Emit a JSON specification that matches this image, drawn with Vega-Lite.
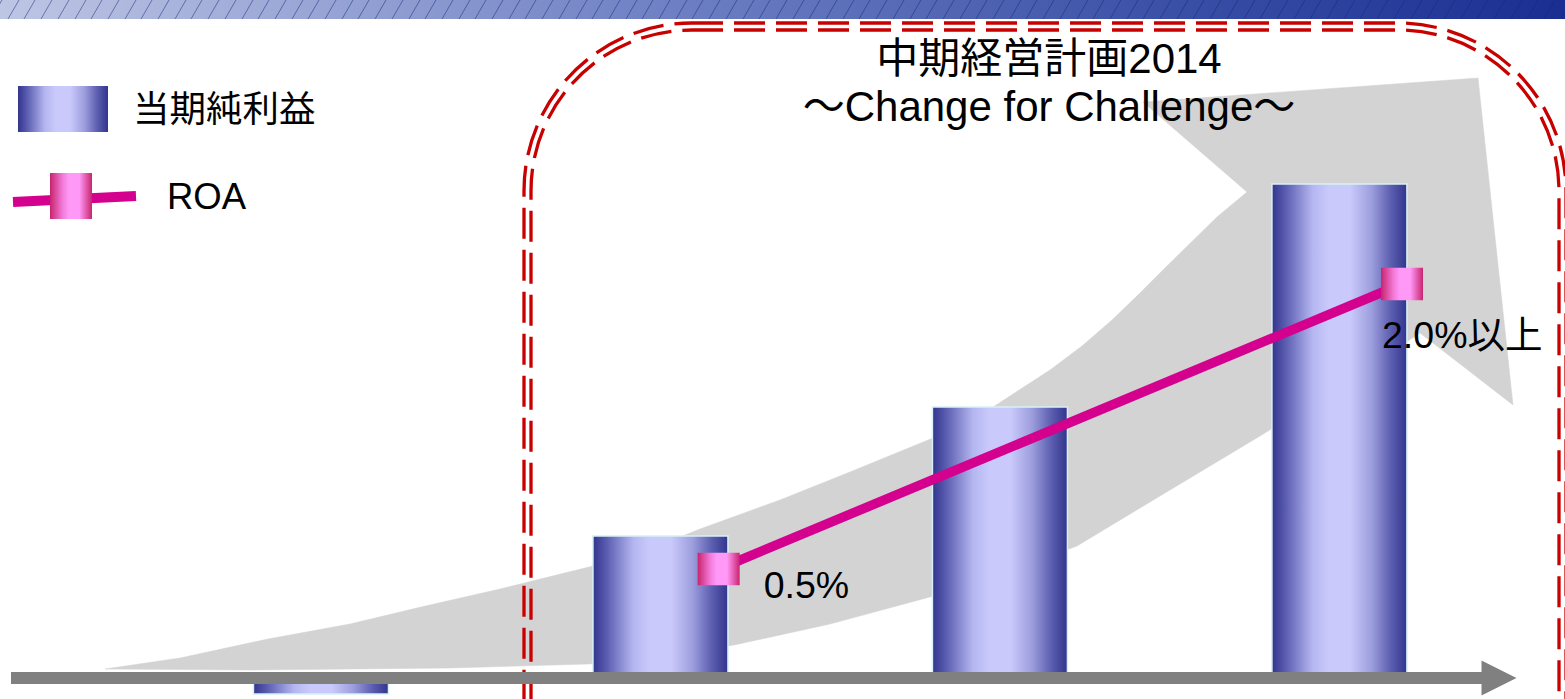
{
  "$schema": "https://vega.github.io/schema/vega-lite/v6.json",
  "width": 1565,
  "height": 699,
  "autosize": "none",
  "padding": 0,
  "background": "white",
  "config": {"view": {"stroke": null}},
  "layer": [
    {
      "encoding": {
        "x": {"field": "px", "type": "quantitative", "scale": {"domain": [0, 1565], "nice": false, "zero": false}, "axis": null},
        "y": {"field": "py", "type": "quantitative", "scale": {"domain": [0, 699], "nice": false, "zero": false, "reverse": true}, "axis": null}
      },
      "layer": [
        {
          "data": {"values": [{"px": 0, "py": 0, "px2": 1565, "py2": 19}]},
          "mark": {"type": "rect", "fill": {"gradient": "linear", "x1": 0, "y1": 0, "x2": 1, "y2": 0, "stops": [{"offset": 0, "color": "#bec6e4"}, {"offset": 0.4, "color": "#7384c6"}, {"offset": 0.75, "color": "#3a50a6"}, {"offset": 1, "color": "#1a2e92"}]}},
          "encoding": {"x2": {"field": "px2"}, "y2": {"field": "py2"}}
        },
        {
          "data": {"values": [
            {"px": -9, "py": 19, "px2": 2, "py2": 0}, {"px": 8, "py": 19, "px2": 19, "py2": 0}, {"px": 24, "py": 19, "px2": 35, "py2": 0}, {"px": 41, "py": 19, "px2": 52, "py2": 0},
            {"px": 58, "py": 19, "px2": 69, "py2": 0}, {"px": 75, "py": 19, "px2": 86, "py2": 0}, {"px": 91, "py": 19, "px2": 102, "py2": 0}, {"px": 108, "py": 19, "px2": 119, "py2": 0},
            {"px": 125, "py": 19, "px2": 136, "py2": 0}, {"px": 141, "py": 19, "px2": 152, "py2": 0}, {"px": 158, "py": 19, "px2": 169, "py2": 0}, {"px": 175, "py": 19, "px2": 186, "py2": 0},
            {"px": 191, "py": 19, "px2": 202, "py2": 0}, {"px": 208, "py": 19, "px2": 219, "py2": 0}, {"px": 225, "py": 19, "px2": 236, "py2": 0}, {"px": 242, "py": 19, "px2": 253, "py2": 0},
            {"px": 258, "py": 19, "px2": 269, "py2": 0}, {"px": 275, "py": 19, "px2": 286, "py2": 0}, {"px": 292, "py": 19, "px2": 303, "py2": 0}, {"px": 308, "py": 19, "px2": 319, "py2": 0},
            {"px": 325, "py": 19, "px2": 336, "py2": 0}, {"px": 342, "py": 19, "px2": 353, "py2": 0}, {"px": 358, "py": 19, "px2": 369, "py2": 0}, {"px": 375, "py": 19, "px2": 386, "py2": 0},
            {"px": 392, "py": 19, "px2": 403, "py2": 0}, {"px": 409, "py": 19, "px2": 420, "py2": 0}, {"px": 425, "py": 19, "px2": 436, "py2": 0}, {"px": 442, "py": 19, "px2": 453, "py2": 0},
            {"px": 459, "py": 19, "px2": 470, "py2": 0}, {"px": 475, "py": 19, "px2": 486, "py2": 0}, {"px": 492, "py": 19, "px2": 503, "py2": 0}, {"px": 509, "py": 19, "px2": 520, "py2": 0},
            {"px": 525, "py": 19, "px2": 536, "py2": 0}, {"px": 542, "py": 19, "px2": 553, "py2": 0}, {"px": 559, "py": 19, "px2": 570, "py2": 0}, {"px": 576, "py": 19, "px2": 587, "py2": 0},
            {"px": 592, "py": 19, "px2": 603, "py2": 0}, {"px": 609, "py": 19, "px2": 620, "py2": 0}, {"px": 626, "py": 19, "px2": 637, "py2": 0}, {"px": 642, "py": 19, "px2": 653, "py2": 0},
            {"px": 659, "py": 19, "px2": 670, "py2": 0}, {"px": 676, "py": 19, "px2": 687, "py2": 0}, {"px": 692, "py": 19, "px2": 703, "py2": 0}, {"px": 709, "py": 19, "px2": 720, "py2": 0},
            {"px": 726, "py": 19, "px2": 737, "py2": 0}, {"px": 743, "py": 19, "px2": 754, "py2": 0}, {"px": 759, "py": 19, "px2": 770, "py2": 0}, {"px": 776, "py": 19, "px2": 787, "py2": 0},
            {"px": 793, "py": 19, "px2": 804, "py2": 0}, {"px": 809, "py": 19, "px2": 820, "py2": 0}, {"px": 826, "py": 19, "px2": 837, "py2": 0}, {"px": 843, "py": 19, "px2": 854, "py2": 0},
            {"px": 859, "py": 19, "px2": 870, "py2": 0}, {"px": 876, "py": 19, "px2": 887, "py2": 0}, {"px": 893, "py": 19, "px2": 904, "py2": 0}, {"px": 910, "py": 19, "px2": 921, "py2": 0},
            {"px": 926, "py": 19, "px2": 937, "py2": 0}, {"px": 943, "py": 19, "px2": 954, "py2": 0}, {"px": 960, "py": 19, "px2": 971, "py2": 0}, {"px": 976, "py": 19, "px2": 987, "py2": 0},
            {"px": 993, "py": 19, "px2": 1004, "py2": 0}, {"px": 1010, "py": 19, "px2": 1021, "py2": 0}, {"px": 1026, "py": 19, "px2": 1037, "py2": 0}, {"px": 1043, "py": 19, "px2": 1054, "py2": 0},
            {"px": 1060, "py": 19, "px2": 1071, "py2": 0}, {"px": 1077, "py": 19, "px2": 1088, "py2": 0}, {"px": 1093, "py": 19, "px2": 1104, "py2": 0}, {"px": 1110, "py": 19, "px2": 1121, "py2": 0},
            {"px": 1127, "py": 19, "px2": 1138, "py2": 0}, {"px": 1143, "py": 19, "px2": 1154, "py2": 0}, {"px": 1160, "py": 19, "px2": 1171, "py2": 0}, {"px": 1177, "py": 19, "px2": 1188, "py2": 0},
            {"px": 1193, "py": 19, "px2": 1204, "py2": 0}, {"px": 1210, "py": 19, "px2": 1221, "py2": 0}, {"px": 1227, "py": 19, "px2": 1238, "py2": 0}, {"px": 1244, "py": 19, "px2": 1255, "py2": 0},
            {"px": 1260, "py": 19, "px2": 1271, "py2": 0}, {"px": 1277, "py": 19, "px2": 1288, "py2": 0}, {"px": 1294, "py": 19, "px2": 1305, "py2": 0}, {"px": 1310, "py": 19, "px2": 1321, "py2": 0},
            {"px": 1327, "py": 19, "px2": 1338, "py2": 0}, {"px": 1344, "py": 19, "px2": 1355, "py2": 0}, {"px": 1360, "py": 19, "px2": 1371, "py2": 0}, {"px": 1377, "py": 19, "px2": 1388, "py2": 0},
            {"px": 1394, "py": 19, "px2": 1405, "py2": 0}, {"px": 1411, "py": 19, "px2": 1422, "py2": 0}, {"px": 1427, "py": 19, "px2": 1438, "py2": 0}, {"px": 1444, "py": 19, "px2": 1455, "py2": 0},
            {"px": 1461, "py": 19, "px2": 1472, "py2": 0}, {"px": 1477, "py": 19, "px2": 1488, "py2": 0}, {"px": 1494, "py": 19, "px2": 1505, "py2": 0}, {"px": 1511, "py": 19, "px2": 1522, "py2": 0},
            {"px": 1527, "py": 19, "px2": 1538, "py2": 0}, {"px": 1544, "py": 19, "px2": 1555, "py2": 0}, {"px": 1561, "py": 19, "px2": 1572, "py2": 0}
          ]},
          "mark": {"type": "rule", "color": "#1a2878", "strokeWidth": 1, "opacity": 0.5},
          "encoding": {"x2": {"field": "px2"}, "y2": {"field": "py2"}}
        },
        {
          "data": {"values": [
            {"k": 1, "px": 105, "py": 669}, {"k": 2, "px": 180, "py": 658}, {"k": 3, "px": 268, "py": 639}, {"k": 4, "px": 350, "py": 624},
            {"k": 5, "px": 421, "py": 607}, {"k": 6, "px": 500, "py": 589}, {"k": 7, "px": 589, "py": 567}, {"k": 8, "px": 650, "py": 549},
            {"k": 9, "px": 700, "py": 529}, {"k": 10, "px": 780, "py": 500}, {"k": 11, "px": 850, "py": 472}, {"k": 12, "px": 933, "py": 438},
            {"k": 13, "px": 990, "py": 409}, {"k": 14, "px": 1050, "py": 370}, {"k": 15, "px": 1082, "py": 346}, {"k": 16, "px": 1112, "py": 320},
            {"k": 17, "px": 1140, "py": 293}, {"k": 18, "px": 1167, "py": 266}, {"k": 19, "px": 1217, "py": 217}, {"k": 20, "px": 1247, "py": 192},
            {"k": 21, "px": 1143, "py": 102}, {"k": 22, "px": 1478, "py": 78}, {"k": 23, "px": 1513, "py": 405}, {"k": 24, "px": 1420, "py": 333},
            {"k": 25, "px": 1340, "py": 386}, {"k": 26, "px": 1260, "py": 436}, {"k": 27, "px": 1200, "py": 472}, {"k": 28, "px": 1150, "py": 502},
            {"k": 29, "px": 1077, "py": 546}, {"k": 30, "px": 1000, "py": 574}, {"k": 31, "px": 930, "py": 597}, {"k": 32, "px": 830, "py": 624},
            {"k": 33, "px": 734, "py": 645}, {"k": 34, "px": 650, "py": 658}, {"k": 35, "px": 589, "py": 664}, {"k": 36, "px": 450, "py": 668},
            {"k": 37, "px": 250, "py": 670}
          ]},
          "mark": {"type": "line", "interpolate": "linear-closed", "fill": "#d3d3d3", "stroke": "#d3d3d3", "strokeWidth": 0.5},
          "encoding": {"order": {"field": "k", "type": "quantitative"}}
        },
        {
          "data": {"values": [{"px": 524, "py": 23, "px2": 1566, "py2": 898.2}]},
          "mark": {"type": "rect", "filled": false, "stroke": "#c80000", "strokeWidth": 3.3, "strokeDash": [31, 11], "cornerRadius": 168},
          "encoding": {"x2": {"field": "px2"}, "y2": {"field": "py2"}}
        },
        {
          "data": {"values": [{"px": 531, "py": 30, "px2": 1559, "py2": 909.2}]},
          "mark": {"type": "rect", "filled": false, "stroke": "#c80000", "strokeWidth": 3.3, "strokeDash": [31, 11], "cornerRadius": 161},
          "encoding": {"x2": {"field": "px2"}, "y2": {"field": "py2"}}
        }
      ]
    },
    {
      "data": {"values": [
        {"fy": "FY2011", "idx": 1, "net": -16},
        {"fy": "FY2012", "idx": 2, "net": 142},
        {"fy": "FY2013", "idx": 3, "net": 271},
        {"fy": "FY2014", "idx": 4, "net": 494}
      ]},
      "mark": {"type": "bar", "width": 135, "stroke": "#d6f2f4", "strokeWidth": 1.5, "fill": {"gradient": "linear", "x1": 0, "y1": 0, "x2": 1, "y2": 0, "stops": [{"offset": 0, "color": "#33358e"}, {"offset": 0.1, "color": "#5a5cb0"}, {"offset": 0.3, "color": "#b4b6f0"}, {"offset": 0.42, "color": "#c9c9fb"}, {"offset": 0.58, "color": "#c9c9fb"}, {"offset": 0.74, "color": "#9c9ddd"}, {"offset": 0.88, "color": "#5c5eb0"}, {"offset": 1, "color": "#33358e"}]}},
      "encoding": {
        "x": {"field": "idx", "type": "quantitative", "scale": {"domain": [0.06928, 4.64973], "nice": false, "zero": false}, "axis": null},
        "y": {"field": "net", "type": "quantitative", "scale": {"domain": [-21, 678], "nice": false, "zero": false}, "axis": null}
      }
    },
    {
      "encoding": {
        "x": {"field": "px", "type": "quantitative", "scale": {"domain": [0, 1565], "nice": false, "zero": false}, "axis": null},
        "y": {"field": "py", "type": "quantitative", "scale": {"domain": [0, 699], "nice": false, "zero": false, "reverse": true}, "axis": null}
      },
      "layer": [
        {
          "data": {"values": [{"px": 11, "px2": 1484, "py": 678}]},
          "mark": {"type": "rule", "color": "#808080", "strokeWidth": 12, "strokeCap": "butt"},
          "encoding": {"x2": {"field": "px2"}}
        },
        {
          "data": {"values": [{"px": 1499, "py": 678}]},
          "mark": {"type": "point", "shape": "M-1,-1L1,0L-1,1Z", "size": 1225, "filled": true, "color": "#808080", "opacity": 1, "strokeWidth": 0}
        }
      ]
    },
    {
      "data": {"values": [
        {"fy": "FY2012", "idx": 2, "roa": 0.5, "label": "0.5%"},
        {"fy": "FY2014", "idx": 4, "roa": 2.0, "label": "2.0%以上"}
      ]},
      "encoding": {
        "x": {"field": "idx", "type": "quantitative", "scale": {"domain": [0.06928, 4.64973], "nice": false, "zero": false}, "axis": null},
        "y": {"field": "roa", "type": "quantitative", "scale": {"domain": [-0.1842, 3.4947], "nice": false, "zero": false}, "axis": null}
      },
      "layer": [
        {"mark": {"type": "line", "color": "#d4008e", "strokeWidth": 9.5, "xOffset": 59}},
        {"mark": {"type": "point", "shape": "M-1,-0.77H1V0.77H-1Z", "size": 1764, "filled": true, "opacity": 1, "strokeWidth": 0, "xOffset": 59, "fill": {"gradient": "linear", "x1": 0, "y1": 0, "x2": 1, "y2": 0, "stops": [{"offset": 0, "color": "#c8246e"}, {"offset": 0.3, "color": "#f27ad8"}, {"offset": 0.45, "color": "#ff98f6"}, {"offset": 0.7, "color": "#ff98f6"}, {"offset": 1, "color": "#c8246e"}]}}},
        {
          "transform": [{"filter": "datum.idx == 2"}],
          "mark": {"type": "text", "align": "left", "baseline": "middle", "xOffset": 59, "dx": 45, "dy": 18, "font": "Liberation Sans, Noto Sans CJK JP", "fontSize": 37.5, "color": "#000000"},
          "encoding": {"text": {"field": "label"}}
        },
        {
          "transform": [{"filter": "datum.idx == 4"}],
          "mark": {"type": "text", "align": "left", "baseline": "middle", "xOffset": 59, "dx": -20, "dy": 53, "font": "Liberation Sans, Noto Sans CJK JP", "fontSize": 37.5, "color": "#000000"},
          "encoding": {"text": {"field": "label"}}
        }
      ]
    },
    {
      "encoding": {
        "x": {"field": "px", "type": "quantitative", "scale": {"domain": [0, 1565], "nice": false, "zero": false}, "axis": null},
        "y": {"field": "py", "type": "quantitative", "scale": {"domain": [0, 699], "nice": false, "zero": false, "reverse": true}, "axis": null}
      },
      "layer": [
        {
          "data": {"values": [{"px": 1049, "py": 60, "label": "中期経営計画2014"}, {"px": 1049, "py": 108, "label": "～Change for Challenge～"}]},
          "mark": {"type": "text", "align": "center", "baseline": "middle", "font": "Liberation Sans, Noto Sans CJK JP", "fontSize": 42, "color": "#000000"},
          "encoding": {"text": {"field": "label"}}
        },
        {
          "data": {"values": [{"px": 18, "py": 86, "px2": 108, "py2": 132}]},
          "mark": {"type": "rect", "fill": {"gradient": "linear", "x1": 0, "y1": 0, "x2": 1, "y2": 0, "stops": [{"offset": 0, "color": "#33358e"}, {"offset": 0.1, "color": "#5a5cb0"}, {"offset": 0.3, "color": "#b4b6f0"}, {"offset": 0.42, "color": "#c9c9fb"}, {"offset": 0.58, "color": "#c9c9fb"}, {"offset": 0.74, "color": "#9c9ddd"}, {"offset": 0.88, "color": "#5c5eb0"}, {"offset": 1, "color": "#33358e"}]}},
          "encoding": {"x2": {"field": "px2"}, "y2": {"field": "py2"}}
        },
        {
          "data": {"values": [{"px": 133, "py": 111, "label": "当期純利益"}, {"px": 167, "py": 198, "label": "ROA"}]},
          "mark": {"type": "text", "align": "left", "baseline": "middle", "font": "Liberation Sans, Noto Sans CJK JP", "fontSize": 36.5, "color": "#000000"},
          "encoding": {"text": {"field": "label"}}
        },
        {
          "data": {"values": [{"px": 13, "py": 202, "px2": 136, "py2": 196}]},
          "mark": {"type": "rule", "color": "#d4008e", "strokeWidth": 10, "strokeCap": "butt"},
          "encoding": {"x2": {"field": "px2"}, "y2": {"field": "py2"}}
        },
        {
          "data": {"values": [{"px": 71, "py": 196}]},
          "mark": {"type": "point", "shape": "M-1,-1.1H1V1.1H-1Z", "size": 1764, "filled": true, "opacity": 1, "strokeWidth": 0, "fill": {"gradient": "linear", "x1": 0, "y1": 0, "x2": 1, "y2": 0, "stops": [{"offset": 0, "color": "#c8246e"}, {"offset": 0.3, "color": "#f27ad8"}, {"offset": 0.45, "color": "#ff98f6"}, {"offset": 0.7, "color": "#ff98f6"}, {"offset": 1, "color": "#c8246e"}]}}
        }
      ]
    }
  ],
  "resolve": {"scale": {"x": "independent", "y": "independent"}}
}
